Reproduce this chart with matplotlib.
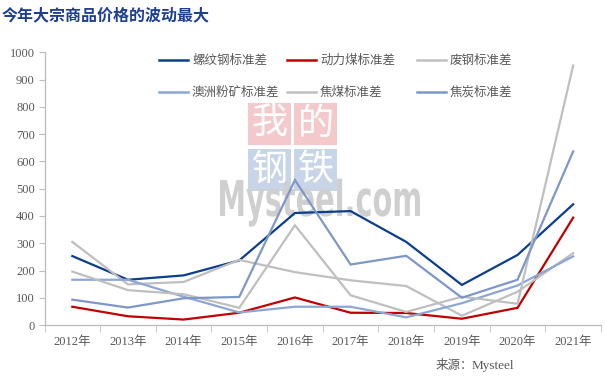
import matplotlib
matplotlib.use("Agg")
import matplotlib.pyplot as plt
from matplotlib.lines import Line2D
from matplotlib.patches import Rectangle, PathPatch
from matplotlib.textpath import TextPath
from matplotlib.font_manager import FontProperties
from matplotlib.transforms import Affine2D
import numpy as np

years = ['2012年', '2013年', '2014年', '2015年', '2016年', '2017年', '2018年', '2019年', '2020年', '2021年']
rebar = [253, 166, 182, 237, 411, 418, 305, 147, 257, 443]
thermal = [67, 32, 20, 45, 101, 45, 44, 23, 63, 394]
scrap = [305, 149, 158, 239, 194, 164, 143, 34, 122, 264]
ore = [166, 166, 104, 46, 67, 67, 28, 80, 145, 252]
coking = [196, 128, 113, 63, 366, 109, 48, 104, 78, 952]
coke = [93, 64, 98, 103, 532, 222, 254, 100, 166, 637]

series_names = ['螺纹钢标准差', '动力煤标准差', '废钢标准差', '澳洲粉矿标准差', '焦煤标准差', '焦炭标准差']
series_vals = [rebar, thermal, scrap, ore, coking, coke]
colors = ['#0B3E8C', '#C00000', '#BFBFBF', '#8CA7D4', '#BFBFBF', '#7D98C7']

W, H = 605, 377
fig = plt.figure(figsize=(W / 100, H / 100), dpi=100)
fig.patch.set_facecolor('white')

def fx(x):
    return x / W

def fy(y):
    return 1 - y / H

left, right, top, bottom = 44.5, 601, 52.5, 325
ax = fig.add_axes([fx(left), fy(bottom), (right - left) / W, (bottom - top) / H])

x = np.arange(len(years))

# watermark
wm_pink = '#F4C9CC'
wm_blue = '#C8D4E8'
cjk = ['Noto Sans CJK SC', 'DejaVu Sans']
for (txt, x0, y0, c) in [('我', 248, 103, wm_pink), ('的', 294, 103, wm_pink),
                          ('钢', 248, 149, wm_blue), ('铁', 294, 149, wm_blue)]:
    r = Rectangle((fx(x0), fy(y0 + 42)), 43 / W, 42 / H, transform=fig.transFigure,
                  facecolor=c, edgecolor='none', zorder=0.2)
    ax.add_artist(r)
    r.set_clip_on(False)
    t = ax.text(fx(x0 + 21.5), fy(y0 + 21), txt, transform=fig.transFigure,
                ha='center', va='center', fontsize=26, color='white',
                family=cjk, zorder=0.3)
    t.set_clip_on(False)

tp = TextPath((0, 0), 'Mysteel.com', size=1,
              prop=FontProperties(family='DejaVu Sans', weight='bold'))
ext = tp.get_extents()
capH = 0.73
tx0, tx1 = 220, 420
sx = (tx1 - tx0) / (ext.x1 - ext.x0)
sy = 36 / capH
tr = Affine2D().translate(-ext.x0, 0).scale(sx, sy).translate(tx0, H - 216) \
    + Affine2D().scale(1 / W, 1 / H) + fig.transFigure
pp = PathPatch(tp, transform=tr, facecolor='#CFCFCF', edgecolor='none', zorder=0.4)
pp.set_clip_on(False)
ax.add_artist(pp)

for name, vals, c in zip(series_names, series_vals, colors):
    ax.plot(x, vals, color=c, lw=1.6, zorder=2, solid_joinstyle='miter')

ax.set_xlim(-0.5, len(years) - 0.5)
ax.set_ylim(0, 1000)
ax.set_yticks(range(0, 1001, 100))
ax.set_xticks(x)
ax.set_xticklabels(years)
ax.set_xticks(np.arange(-0.5, len(years), 1.0), minor=True)
ax.tick_params(axis='x', which='major', length=0, pad=8, labelsize=9, labelcolor='#595959')
ax.tick_params(axis='x', which='minor', length=5, color='#BFBFBF', direction='out')
ax.tick_params(axis='y', length=4, color='#BFBFBF', labelsize=9, labelcolor='#595959', pad=3)
for lab in ax.get_xticklabels() + ax.get_yticklabels():
    lab.set_family(['Liberation Serif', 'Noto Sans CJK SC'])

for s in ['top', 'right']:
    ax.spines[s].set_visible(False)
for s in ['left', 'bottom']:
    ax.spines[s].set_color('#BFBFBF')
    ax.spines[s].set_linewidth(1.0)
ax.set_facecolor('none')

# legend (manual)
leg_pos = [(159, 60), (287, 60), (417, 60), (159, 92), (287, 92), (417, 92)]
for (lx, ly), name, c in zip(leg_pos, series_names, colors):
    fig.add_artist(Line2D([fx(lx), fx(lx + 29)], [fy(ly), fy(ly)], color=c, lw=1.8,
                          transform=fig.transFigure))
    fig.text(fx(lx + 33), fy(ly), name, ha='left', va='center', fontsize=9,
             color='#595959', family=cjk)

fig.text(fx(2), fy(15), '今年大宗商品价格的波动最大', ha='left', va='center',
         fontsize=11.5, fontweight='bold', color='#1C3F8F', family=cjk)
fig.text(fx(436), fy(366), '来源：', ha='left', va='center', fontsize=9,
         color='#595959', family=cjk)
fig.text(fx(472), fy(366), 'Mysteel', ha='left', va='center', fontsize=9.5,
         color='#595959', family=['Liberation Serif'])

fig.savefig('out.png', dpi=100, facecolor='white')
